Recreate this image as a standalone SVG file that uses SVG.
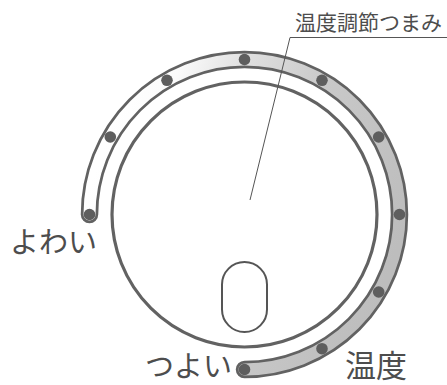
<svg xmlns="http://www.w3.org/2000/svg" width="447" height="385" viewBox="0 0 447 385">
  <style>
    .lbl { font-family: "Noto Sans CJK JP", "Noto Sans", sans-serif; fill: #4d4d4d; }
    .outline { fill: none; stroke: #626262; stroke-width: 17.5; stroke-linecap: round; }
    .fill { fill: none; stroke: url(#bandGrad); stroke-width: 12; stroke-linecap: round; }
    .dot { fill: #5e5e5e; }
    .leader { fill: none; stroke: #555; stroke-width: 1; }
  </style>
  <defs>
    <linearGradient id="bandGrad" gradientUnits="userSpaceOnUse" x1="98.8" y1="161.5" x2="390.2" y2="267.5">
      <stop offset="0" stop-color="#ffffff"/>
      <stop offset="0.14" stop-color="#fbfbfb"/>
      <stop offset="0.33" stop-color="#e0e0e0"/>
      <stop offset="0.6" stop-color="#c9c9c9"/>
      <stop offset="1" stop-color="#bdbdbd"/>
    </linearGradient>
  </defs>
  <rect width="447" height="385" fill="#ffffff"/>

  <g id="dial-track">
    <path class="outline" d="M 89.5 214.5 A 155 155 0 1 1 244.5 369.5"/>
    <path class="fill" d="M 89.5 214.5 A 155 155 0 1 1 244.5 369.5"/>
    <circle class="dot" cx="89.5" cy="214.5" r="5.8"/>
    <circle class="dot" cx="110.3" cy="137" r="5.8"/>
    <circle class="dot" cx="167" cy="80.3" r="5.8"/>
    <circle class="dot" cx="244.5" cy="59.5" r="5.8"/>
    <circle class="dot" cx="322" cy="80.3" r="5.8"/>
    <circle class="dot" cx="378.7" cy="137" r="5.8"/>
    <circle class="dot" cx="399.5" cy="214.5" r="5.8"/>
    <circle class="dot" cx="378.7" cy="292" r="5.8"/>
    <circle class="dot" cx="322" cy="348.7" r="5.8"/>
    <circle class="dot" cx="244.5" cy="369.5" r="5.8"/>
  </g>

  <g id="knob">
    <circle cx="244.5" cy="214.5" r="132.5" fill="#ffffff" stroke="#626262" stroke-width="3.2"/>
    <rect x="222" y="262" width="45" height="70" rx="22.5" ry="22.5" fill="#ffffff" stroke="#555" stroke-width="2"/>
  </g>

  <g id="label-knob">
    <text class="lbl" x="295" y="29.5" font-size="21">温度調節つまみ</text>
  </g>
  <g id="label-weak">
    <text class="lbl" x="10" y="253" font-size="29">よわい</text>
  </g>
  <g id="label-strong">
    <text class="lbl" x="145" y="377" font-size="29">つよい</text>
  </g>
  <g id="label-temp">
    <text class="lbl" x="345" y="377" font-size="31">温度</text>
  </g>

  <g id="connectors">
    <path class="leader" d="M 447 37.5 H 290 L 250 200"/>
  </g>
</svg>
